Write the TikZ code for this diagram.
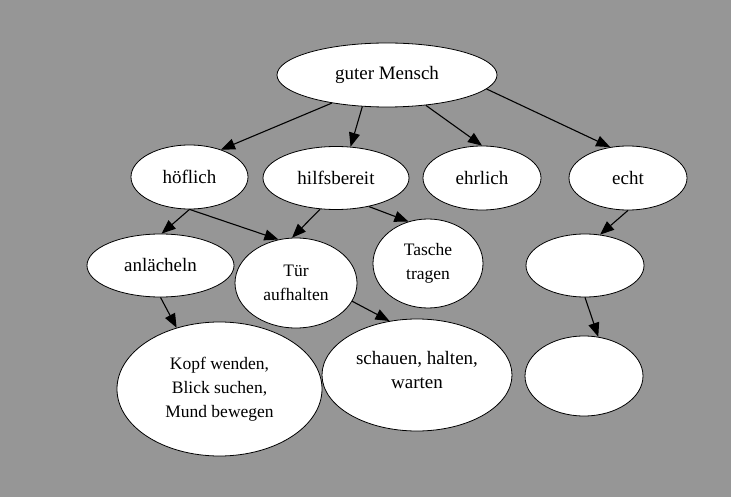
\documentclass[tikz,border=0pt]{standalone}
\usepackage{fontspec}
\setmainfont{Liberation Serif}
\usepackage{tikz}
\usetikzlibrary{shapes.geometric,arrows.meta}
\definecolor{bggray}{RGB}{150,150,150}

\begin{document}
\begin{tikzpicture}[
    x=1pt, y=-1pt,
    bubble/.style={ellipse, draw, thick, fill=white, align=center, inner sep=0pt, font=\fontsize{19}{24}\selectfont},
    smallbubble/.style={bubble, font=\fontsize{17.5}{24}\selectfont},
    arrow/.style={-{Triangle[length=14pt,width=11pt]}, line width=1.1pt}
]
    \fill[bggray] (0,0) rectangle (731,497);
    \useasboundingbox (0,0) rectangle (731,497);

    \node[bubble, minimum width=220pt, minimum height=64pt] (guter) at (387,75) {guter Mensch};
    \node[bubble, minimum width=117pt, minimum height=64pt] (hoeflich) at (189.5,177) {höflich};
    \node[bubble, minimum width=146pt, minimum height=63pt] (hilfs) at (336,178) {hilfsbereit};
    \node[bubble, minimum width=118pt, minimum height=64pt] (ehrlich) at (482,178) {ehrlich};
    \node[bubble, minimum width=118pt, minimum height=64pt] (echt) at (628,178) {echt};
    \node[bubble, minimum width=147pt, minimum height=63pt] (laecheln) at (160.5,265.5) {anlächeln};
    \node[smallbubble, minimum width=122pt, minimum height=90pt] (tuer) at (296,283) {Tür\\aufhalten};
    \node[smallbubble, minimum width=110pt, minimum height=89pt] (tasche) at (428,263.5) {Tasche\\tragen};
    \node[bubble, minimum width=118pt, minimum height=63pt] (leerA) at (585,265.5) {};
    \node[bubble, minimum width=118pt, minimum height=80pt] (leerB) at (584,376) {};
    \node[smallbubble, minimum width=205pt, minimum height=134pt] (kopf) at (219.5,389) {Kopf wenden,\\Blick suchen,\\Mund bewegen};
    \node[bubble, minimum width=190pt, minimum height=112pt, text depth=10pt] (schauen) at (417,375) {schauen, halten,\\warten};

    \draw[arrow] (guter.207) -- (hoeflich.41);
    \draw[arrow] (guter.232) -- (hilfs.65);
    \draw[arrow] (guter.322) -- (ehrlich.90);
    \draw[arrow] (guter.352) -- (echt.120);
    \draw[arrow] (hoeflich.270) -- (laecheln.88);
    \draw[arrow] (hoeflich.270) -- (tuer.112);
    \draw[arrow] (hilfs.243) -- (tuer.95);
    \draw[arrow] (hilfs.319) -- (tasche.115);
    \draw[arrow] (echt.270) -- (leerA.64);
    \draw[arrow] (leerA.270) -- (leerB.70);
    \draw[arrow] (laecheln.270) -- (kopf.125);
    \draw[arrow] (tuer.342) -- (schauen.117);
\end{tikzpicture}
\end{document}
